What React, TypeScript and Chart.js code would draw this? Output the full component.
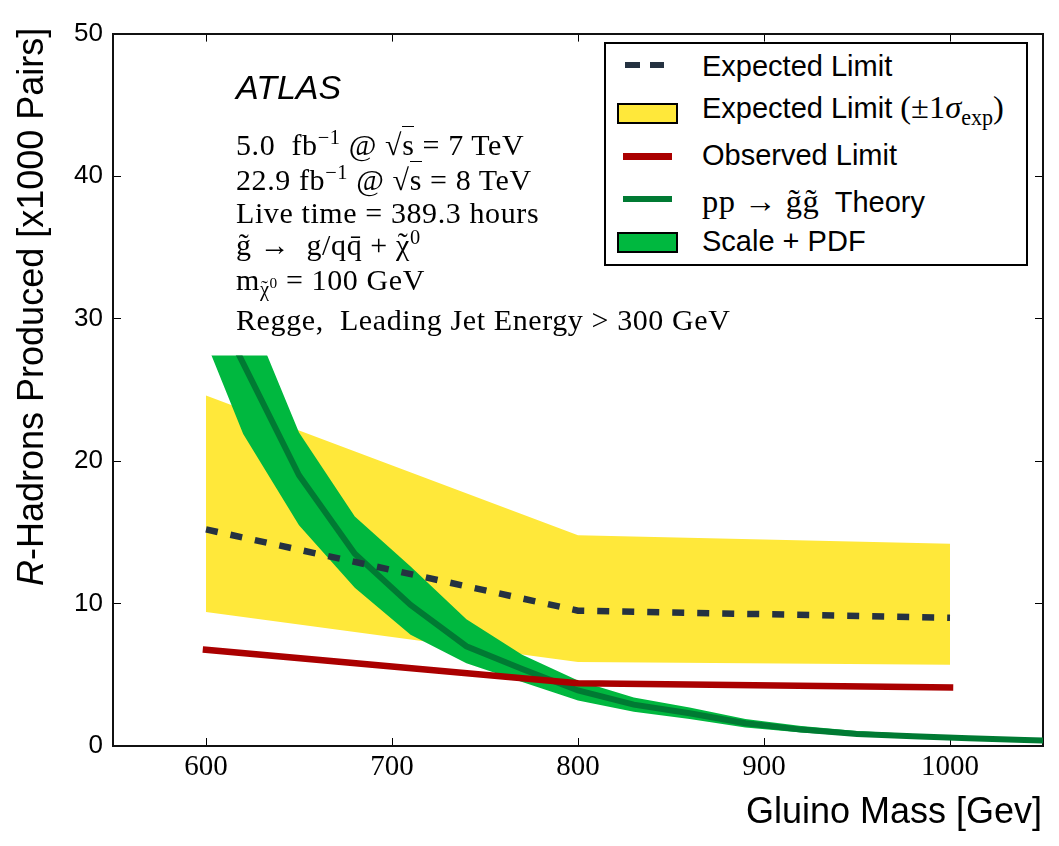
import React, { useEffect, useRef } from 'react';
import { Chart, registerables } from 'chart.js';

// ---- data ----
const expMass = [600, 800, 1000];
const expectedLimit = [15.2, 9.5, 9.0];
const expectedLow = [9.4, 5.9, 5.7];
const expectedHigh = [24.6, 14.8, 14.2];
const observedLimit = [6.75, 4.4, 4.1];

const theoryMass = [590, 620, 650, 680, 710, 740, 770, 800, 830, 860, 890, 920, 950, 980, 1010, 1040, 1070];
const theoryCentral = [34.7, 26.85, 19.0, 13.5, 9.9, 7.0, 5.4, 3.9, 2.9, 2.3, 1.6, 1.15, 0.85, 0.68, 0.55, 0.42, 0.32];
const theoryLow = [31.6, 21.9, 15.5, 11.1, 7.8, 5.8, 4.5, 3.2, 2.4, 1.9, 1.3, 0.95, 0.7, 0.55, 0.45, 0.33, 0.25];
const theoryHigh = [42.0, 31.5, 22.0, 16.1, 12.6, 8.9, 6.4, 4.6, 3.4, 2.7, 1.9, 1.4, 1.05, 0.85, 0.68, 0.5, 0.38];
const theoryClipTop = 27.4;

const xMin = 550;
const xMax = 1050;
const xTickValues = [600, 700, 800, 900, 1000];
const yMin = 0;
const yMax = 50;
const yTickValues = [0, 10, 20, 30, 40, 50];

const COL_YELLOW = '#FFE83A';
const COL_GREEN_BAND = '#00B83F';
const COL_GREEN_LINE = '#007A33';
const COL_RED = '#AA0000';
const COL_DASH = '#253241';

const topClipPlugin = {
  id: 'topClip',
  beforeDatasetDraw(chart: any, args: any) {
    const ds: any = chart.data.datasets[args.index];
    if (ds.clipTop === undefined) return;
    const { ctx, chartArea } = chart;
    const y = chart.scales.y.getPixelForValue(ds.clipTop);
    ctx.save();
    ctx.beginPath();
    ctx.rect(chartArea.left, y, chartArea.right - chartArea.left, chartArea.bottom - y);
    ctx.clip();
  },
  afterDatasetDraw(chart: any, args: any) {
    const ds: any = chart.data.datasets[args.index];
    if (ds.clipTop === undefined) return;
    chart.ctx.restore();
  },
};

Chart.register(topClipPlugin as any, ...registerables);

const pts = (xs: number[], ys: number[]) => xs.map((x, i) => ({ x, y: ys[i] }));

const SANS = '"Liberation Sans", Arial, sans-serif';
const SERIF = '"Liberation Serif", "Times New Roman", serif';

function Txt(props: {
  left?: number;
  right?: number;
  baseline: number;
  size: number;
  family: string;
  italic?: boolean;
  spacing?: number;
  children: any;
}) {
  const ratio = props.family === SERIF ? 0.8375 : 0.8465;
  const style: any = {
    position: 'absolute',
    top: props.baseline - ratio * props.size,
    fontSize: props.size,
    lineHeight: props.size + 'px',
    fontFamily: props.family,
    fontStyle: props.italic ? 'italic' : 'normal',
    whiteSpace: 'nowrap',
    color: '#000',
    letterSpacing: props.spacing ? props.spacing + 'px' : undefined,
  };
  if (props.left !== undefined) style.left = props.left;
  if (props.right !== undefined) style.right = props.right;
  return <div style={style}>{props.children}</div>;
}

const Sup = ({ children }: any) => (
  <span style={{ fontSize: '0.68em', position: 'relative', top: '-0.55em' }}>{children}</span>
);
const Sub = ({ children }: any) => (
  <span style={{ fontSize: '0.68em', position: 'relative', top: '0.3em' }}>{children}</span>
);
const Sqrt = ({ children }: any) => (
  <span>
    √<span style={{ borderTop: '1.5px solid #000', paddingTop: 1 }}>{children}</span>
  </span>
);
const Tilde = ({ children }: any) => (
  <span style={{ position: 'relative', display: 'inline-block' }}>
    {children}
    <span style={{ position: 'absolute', left: 0, right: 0, top: '-0.05em', textAlign: 'center' }}>˜</span>
  </span>
);

export default function App() {
  const canvasRef = useRef<HTMLCanvasElement | null>(null);

  useEffect(() => {
    document.body.style.margin = '0';
    const canvas = canvasRef.current;
    if (!canvas) return;

    const gridOpts = {
      drawOnChartArea: false,
      drawTicks: true,
      tickLength: -8,
      color: '#000',
      lineWidth: 1,
    };
    const borderOpts = { display: true, color: '#111', width: 2 };
    const setX = (s: any) => {
      s.ticks = xTickValues.map((v) => ({ value: v }));
    };
    const setY = (s: any) => {
      s.ticks = yTickValues.map((v) => ({ value: v }));
    };

    const chart = new Chart(canvas, {
      type: 'line',
      data: {
        datasets: [
          {
            label: 'Expected Limit',
            data: pts(expMass, expectedLimit),
            borderColor: COL_DASH,
            borderWidth: 6.5,
            borderDash: [12, 13],
            borderCapStyle: 'butt',
            pointRadius: 0,
            fill: false,
            order: 0,
          },
          {
            label: 'Observed Limit',
            data: pts(expMass, observedLimit),
            borderColor: COL_RED,
            borderWidth: 6.5,
            borderCapStyle: 'square',
            pointRadius: 0,
            fill: false,
            order: 1,
          },
          {
            label: 'Theory',
            data: pts(theoryMass, theoryCentral),
            borderColor: COL_GREEN_LINE,
            borderWidth: 6,
            pointRadius: 0,
            fill: false,
            order: 2,
            clip: 0,
            clipTop: theoryClipTop,
          } as any,
          {
            label: 'Scale + PDF (high)',
            data: pts(theoryMass, theoryHigh),
            borderWidth: 0,
            borderColor: 'rgba(0,0,0,0)',
            backgroundColor: COL_GREEN_BAND,
            fill: '+1',
            pointRadius: 0,
            order: 3,
            clip: 0,
            clipTop: theoryClipTop,
          } as any,
          {
            label: 'Scale + PDF (low)',
            data: pts(theoryMass, theoryLow),
            borderWidth: 0,
            borderColor: 'rgba(0,0,0,0)',
            pointRadius: 0,
            fill: false,
            order: 4,
            clip: 0,
          },
          {
            label: 'Expected band (high)',
            data: pts(expMass, expectedHigh),
            borderWidth: 0,
            borderColor: 'rgba(0,0,0,0)',
            backgroundColor: COL_YELLOW,
            fill: '+1',
            pointRadius: 0,
            order: 5,
          },
          {
            label: 'Expected band (low)',
            data: pts(expMass, expectedLow),
            borderWidth: 0,
            borderColor: 'rgba(0,0,0,0)',
            pointRadius: 0,
            fill: false,
            order: 6,
          },
        ],
      },
      options: {
        responsive: false,
        animation: false,
        events: [],
        layout: { padding: { top: 28, right: 16, left: 0, bottom: 0 } },
        elements: { line: { tension: 0 } },
        plugins: { legend: { display: false }, tooltip: { enabled: false }, title: { display: false } },
        scales: {
          x: {
            type: 'linear',
            position: 'bottom',
            min: xMin,
            max: xMax,
            afterBuildTicks: setX,
            ticks: {
              padding: 12,
              color: '#000',
              font: { family: 'Liberation Serif', size: 29 },
              maxRotation: 0,
              autoSkip: false,
              callback: (v: any) => String(v),
            },
            grid: gridOpts,
            border: borderOpts,
            afterFit: (s: any) => {
              s.height = 100;
            },
          },
          x2: {
            type: 'linear',
            position: 'top',
            min: xMin,
            max: xMax,
            afterBuildTicks: setX,
            ticks: { display: false, autoSkip: false },
            grid: gridOpts,
            border: borderOpts,
            afterFit: (s: any) => {
              s.height = 0;
            },
          },
          y: {
            type: 'linear',
            position: 'left',
            min: yMin,
            max: yMax,
            afterBuildTicks: setY,
            ticks: {
              padding: 18,
              color: '#000',
              autoSkip: false,
              font: { family: 'Liberation Sans', size: 26 },
              callback: (v: any) => String(v),
            },
            grid: gridOpts,
            border: borderOpts,
            afterFit: (s: any) => {
              s.width = 113;
            },
          },
          y2: {
            type: 'linear',
            position: 'right',
            min: yMin,
            max: yMax,
            afterBuildTicks: setY,
            ticks: { display: false, autoSkip: false },
            grid: gridOpts,
            border: borderOpts,
            afterFit: (s: any) => {
              s.width = 0;
            },
          },
        },
      } as any,
    });

    return () => {
      chart.destroy();
    };
  }, []);

  return (
    <div style={{ position: 'relative', width: 1059, height: 846, background: '#fff', overflow: 'hidden' }}>
      <canvas ref={canvasRef} width={1059} height={846} style={{ position: 'absolute', left: 0, top: 0 }} />

      {/* y-axis title */}
      <div
        style={{
          position: 'absolute',
          left: 12.5,
          top: 586,
          fontSize: 36,
          lineHeight: '36px',
          fontFamily: SANS,
          whiteSpace: 'nowrap',
          transformOrigin: '0 0',
          transform: 'rotate(-90deg)',
          color: '#000',
        }}
      >
        <i>R</i>-Hadrons Produced [x1000 Pairs]
      </div>

      {/* x-axis title */}
      <Txt right={17} baseline={823} size={36} family={SANS}>
        Gluino Mass [Gev]
      </Txt>

      {/* annotations */}
      <Txt left={236} baseline={99} size={34} family={SANS} italic>
        ATLAS
      </Txt>
      <Txt left={236} baseline={155} size={30} family={SERIF} spacing={0.6}>
        5.0&nbsp;&nbsp;fb<Sup>−1</Sup> @ <Sqrt>s</Sqrt> = 7 TeV
      </Txt>
      <Txt left={236} baseline={190} size={30} family={SERIF} spacing={0.6}>
        22.9 fb<Sup>−1</Sup> @ <Sqrt>s</Sqrt> = 8 TeV
      </Txt>
      <Txt left={236} baseline={223} size={30} family={SERIF} spacing={0.6}>
        Live time = 389.3 hours
      </Txt>
      <Txt left={236} baseline={255} size={30} family={SERIF} spacing={0.6}>
        g̃ →&nbsp; g/qq̄ + <Tilde>χ</Tilde>
        <Sup>0</Sup>
      </Txt>
      <Txt left={236} baseline={290} size={30} family={SERIF} spacing={0.6}>
        m
        <Sub>
          <Tilde>χ</Tilde>
          <span style={{ fontSize: '0.75em', position: 'relative', top: '-0.5em' }}>0</span>
        </Sub>{' '}
        = 100 GeV
      </Txt>
      <Txt left={236} baseline={330} size={30} family={SERIF} spacing={0.6}>
        Regge,&nbsp; Leading Jet Energy &gt; 300 GeV
      </Txt>

      {/* legend */}
      <div
        style={{
          position: 'absolute',
          left: 604,
          top: 42,
          width: 424,
          height: 224,
          border: '2px solid #000',
          boxSizing: 'border-box',
          background: '#fff',
        }}
      />
      <div style={{ position: 'absolute', left: 625, top: 62, width: 15, height: 6, background: COL_DASH }} />
      <div style={{ position: 'absolute', left: 650, top: 62, width: 14, height: 6, background: COL_DASH }} />
      <div
        style={{
          position: 'absolute',
          left: 617,
          top: 103,
          width: 61,
          height: 21,
          background: COL_YELLOW,
          border: '2px solid #000',
          boxSizing: 'border-box',
        }}
      />
      <div style={{ position: 'absolute', left: 623, top: 153, width: 49, height: 7, background: COL_RED }} />
      <div style={{ position: 'absolute', left: 623, top: 196, width: 49, height: 6, background: COL_GREEN_LINE }} />
      <div
        style={{
          position: 'absolute',
          left: 617,
          top: 232,
          width: 61,
          height: 21,
          background: COL_GREEN_BAND,
          border: '2px solid #000',
          boxSizing: 'border-box',
        }}
      />
      <Txt left={702} baseline={77} size={29} family={SANS}>
        Expected Limit
      </Txt>
      <Txt left={702} baseline={118} size={29} family={SANS}>
        Expected Limit{' '}
        <span style={{ fontFamily: SERIF, fontSize: '1.12em' }}>
          (±1<i>σ</i>
          <Sub>exp</Sub>)
        </span>
      </Txt>
      <Txt left={702} baseline={166} size={29} family={SANS}>
        Observed Limit
      </Txt>
      <Txt left={702} baseline={212} size={29} family={SANS}>
        <span style={{ fontFamily: SERIF, fontSize: '1.12em', letterSpacing: '0.5px' }}>pp → g̃g̃</span>&nbsp; Theory
      </Txt>
      <Txt left={702} baseline={252} size={29} family={SANS}>
        Scale + PDF
      </Txt>
    </div>
  );
}
